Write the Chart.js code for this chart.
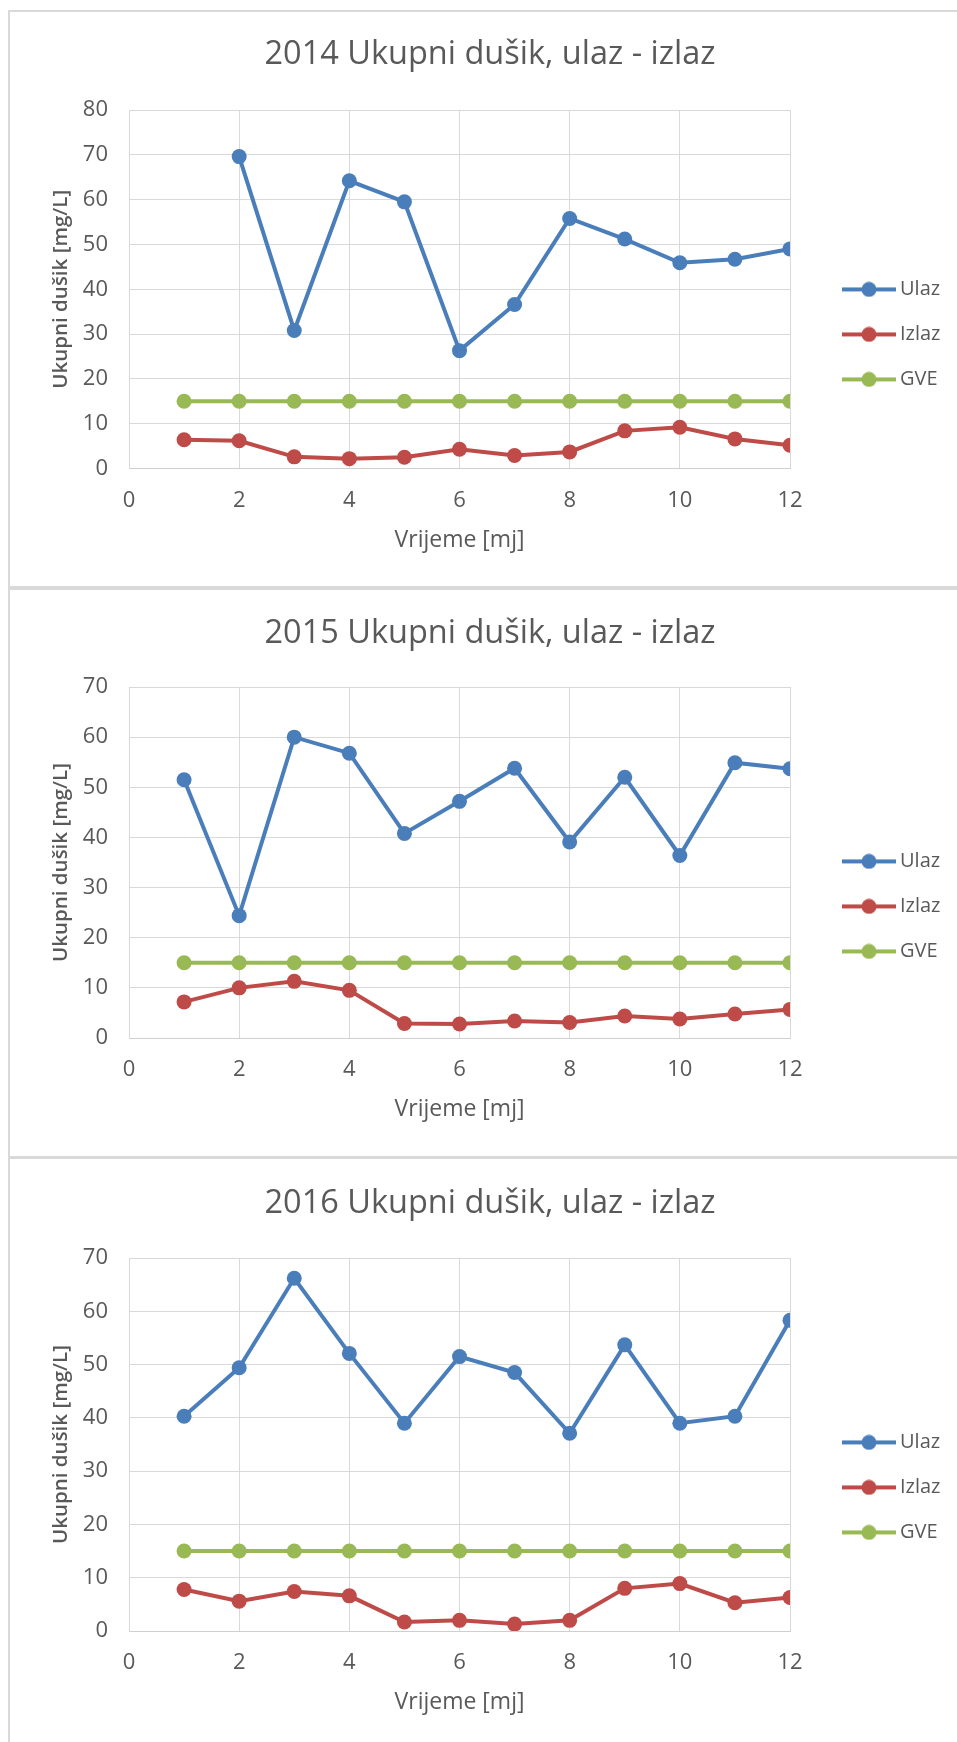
<!DOCTYPE html>
<html>
<head>
<meta charset="utf-8">
<script src="https://cdn.jsdelivr.net/npm/chart.js@4.4.1/dist/chart.umd.min.js"></script>
<style>
  html, body { margin: 0; padding: 0; background: #fff; overflow: hidden; width: 957px; height: 1742px; }
  .panel { position: absolute; left: 8px; width: 1000px; box-sizing: border-box; border: 2px solid #d9d9d9; }
  canvas { position: absolute; left: 0; }
</style>
</head>
<body>
<div class="panel" style="top:10px;height:578px"></div>
<div class="panel" style="top:588px;height:570px"></div>
<div class="panel" style="top:1157px;height:700px"></div>
<canvas id="c2014" width="990" height="588" style="top:0"></canvas>
<canvas id="c2015" width="990" height="569" style="top:588px"></canvas>
<canvas id="c2016" width="990" height="585" style="top:1157px"></canvas>
<script>
// ---- data ----
const months = [1, 2, 3, 4, 5, 6, 7, 8, 9, 10, 11, 12];
const seriesNames = ['Ulaz', 'Izlaz', 'GVE'];
const xTicks = [0, 2, 4, 6, 8, 10, 12];

const ulaz2014 = [null, 69.6, 30.8, 64.2, 59.5, 26.3, 36.6, 55.8, 51.2, 45.9, 46.7, 49.0];
const izlaz2014 = [6.4, 6.2, 2.6, 2.2, 2.5, 4.3, 2.9, 3.7, 8.4, 9.2, 6.6, 5.2];
const gve2014 = [15, 15, 15, 15, 15, 15, 15, 15, 15, 15, 15, 15];

const ulaz2015 = [51.5, 24.4, 60.0, 56.8, 40.8, 47.2, 53.8, 39.1, 52.0, 36.4, 54.9, 53.7];
const izlaz2015 = [7.2, 10.0, 11.3, 9.5, 2.9, 2.8, 3.4, 3.1, 4.4, 3.8, 4.8, 5.7];
const gve2015 = [15, 15, 15, 15, 15, 15, 15, 15, 15, 15, 15, 15];

const ulaz2016 = [40.3, 49.4, 66.2, 52.1, 39.0, 51.5, 48.5, 37.1, 53.7, 39.0, 40.3, 58.3];
const izlaz2016 = [7.8, 5.6, 7.4, 6.6, 1.7, 2.0, 1.3, 2.0, 8.0, 8.9, 5.3, 6.3];
const gve2016 = [15, 15, 15, 15, 15, 15, 15, 15, 15, 15, 15, 15];

// ---- styling ----
const colors = ['#4a7ebb', '#be4b48', '#98b954'];
const textColor = '#595959';
const gridColor = '#d9d9d9';
const FONT = "'Open Sans', sans-serif";
const LEGEND_W = 147;

// Excel style legend key: short line with a dot in the middle
function legendIcon(color) {
  const c = document.createElement('canvas');
  c.width = 54; c.height = 16;
  const g = c.getContext('2d');
  g.strokeStyle = color; g.lineWidth = 4;
  g.beginPath(); g.moveTo(0, 8); g.lineTo(54, 8); g.stroke();
  g.fillStyle = color;
  g.beginPath(); g.arc(27, 8, 7.5, 0, Math.PI * 2); g.fill();
  return c;
}
const legendIcons = colors.map(legendIcon);

// keeps the legend column as wide as Excel's
const fixedLegend = {
  id: 'fixedLegend',
  beforeLayout(chart) {
    const lg = chart.legend;
    if (!lg || lg._fixed) return;
    const fit = lg.fit;
    lg.fit = function () { fit.call(this); this.width = LEGEND_W; };
    lg._fixed = true;
  }
};

function toPoints(values) {
  return months.map((m, i) => ({ x: m, y: values[i] }));
}

function renderChart(id, year, series, yMax, lay) {
  const ctx = document.getElementById(id);
  return new Chart(ctx, {
    type: 'line',
    data: {
      datasets: series.map((vals, i) => ({
        label: seriesNames[i],
        data: toPoints(vals),
        yAxisID: 'y',
        borderColor: colors[i],
        backgroundColor: colors[i],
        borderWidth: 4,
        pointRadius: 7.5,
        pointHoverRadius: 7.5,
        pointBorderWidth: 0,
        pointBackgroundColor: colors[i],
        tension: 0,
      }))
    },
    options: {
      responsive: false,
      animation: false,
      layout: { padding: { left: 10, right: 20, top: 0, bottom: lay.padBottom } },
      scales: {
        x: {
          type: 'linear',
          min: 0, max: 12,
          afterBuildTicks: s => { s.ticks = xTicks.map(v => ({ value: v })); },
          afterFit: s => { s.height = 110; },
          grid: { color: gridColor, drawTicks: false },
          border: { color: '#cfcfcf', width: 1 },
          ticks: { color: textColor, font: { family: FONT, size: 22 }, padding: 19 },
          title: {
            display: true, text: 'Vrijeme [mj]', color: textColor,
            font: { family: FONT, size: 23 }, padding: { top: 0, bottom: 24.5 }
          }
        },
        y: {
          position: 'left',
          min: 0, max: yMax,
          afterFit: s => { s.width = 119; },
          grid: { color: gridColor, drawTicks: false },
          border: { color: gridColor, width: 1 },
          ticks: { stepSize: 10, color: textColor, font: { family: FONT, size: 22 }, padding: 21 },
          title: {
            display: true, text: 'Ukupni dušik [mg/L]', color: textColor,
            font: { family: FONT, size: 20.5, weight: '600' }, padding: { top: 38.7, bottom: 0 }
          }
        },
        y2: {
          position: 'right',
          grid: { display: false },
          border: { display: false },
          ticks: { display: false },
          afterFit: s => { s.width = 33; }
        }
      },
      plugins: {
        title: {
          display: true,
          text: year + ' Ukupni dušik, ulaz - izlaz',
          color: textColor,
          font: { family: FONT, size: 32.5, weight: 'normal' },
          padding: { top: lay.titleTop, bottom: lay.titleBottom }
        },
        legend: {
          position: 'right',
          fullSize: false,
          align: 'start',
          title: { display: true, text: '', padding: { top: lay.legendTop, bottom: 0 } },
          labels: {
            usePointStyle: true,
            pointStyleWidth: 42,
            padding: 25,
            color: textColor,
            font: { family: FONT, size: 20 },
            generateLabels(chart) {
              const items = Chart.defaults.plugins.legend.labels.generateLabels(chart);
              items.forEach((it, i) => { it.pointStyle = legendIcons[i]; });
              return items;
            }
          }
        },
        tooltip: { enabled: false }
      }
    },
    plugins: [fixedLegend]
  });
}

renderChart('c2014', 2014, [ulaz2014, izlaz2014, gve2014], 80,
  { titleTop: 35.1, titleBottom: 35.9, padBottom: 9.5, legendTop: 130 });
renderChart('c2015', 2015, [ulaz2015, izlaz2015, gve2015], 70,
  { titleTop: 26.1, titleBottom: 33.9, padBottom: 9, legendTop: 125 });
renderChart('c2016', 2016, [ulaz2016, izlaz2016, gve2016], 70,
  { titleTop: 27.1, titleBottom: 34.9, padBottom: 1, legendTop: 135 });
</script>
</body>
</html>
